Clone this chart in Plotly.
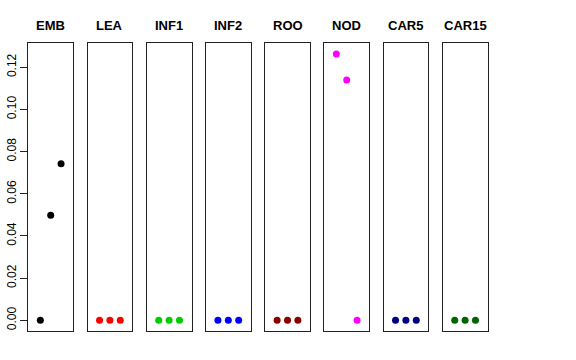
import plotly.graph_objects as go

categories = ["EMB", "LEA", "INF1", "INF2", "ROO", "NOD", "CAR5", "CAR15"]
colors = ["#000000", "#FF0000", "#00CD00", "#0000FF", "#8B0000", "#FF00FF", "#000080", "#006400"]
x_pos = [1, 2, 3]
values = {
    "EMB": [0.0, 0.0498, 0.0743],
    "LEA": [0.0, 0.0, 0.0],
    "INF1": [0.0, 0.0, 0.0],
    "INF2": [0.0, 0.0, 0.0],
    "ROO": [0.0, 0.0, 0.0],
    "NOD": [0.1263, 0.1140, 0.0],
    "CAR5": [0.0, 0.0, 0.0],
    "CAR15": [0.0, 0.0, 0.0],
}
y_ticks = [0.00, 0.02, 0.04, 0.06, 0.08, 0.10, 0.12]

W, H = 576, 360
fig = go.Figure()
ymax = max(max(v) for v in values.values())
ymin = 0.0
ext = (ymax - ymin) * 0.04
yrange = [ymin - ext, ymax + ext]

top_px, bot_px = 43.3, 331.0
ydom = [(H - bot_px) / H, (H - top_px) / H]

annotations = []
for i, cat in enumerate(categories):
    left = 28.3 + 59.2 * i
    right = left + 44.8
    xa = "xaxis" if i == 0 else f"xaxis{i+1}"
    ya = "yaxis" if i == 0 else f"yaxis{i+1}"
    xr = "x" if i == 0 else f"x{i+1}"
    yr = "y" if i == 0 else f"y{i+1}"
    fig.add_trace(go.Scatter(
        x=x_pos, y=values[cat], mode="markers",
        marker=dict(color=colors[i], size=7),
        xaxis=xr, yaxis=yr, showlegend=False, hoverinfo="skip"))
    fig.layout[xa] = dict(domain=[left / W, right / W], range=[-0.16, 4.16],
                          showgrid=False, zeroline=False, showticklabels=False, ticks="",
                          showline=True, mirror=True, linecolor="#222222", linewidth=1,
                          anchor=yr, fixedrange=True, automargin=False)
    yax = dict(domain=ydom, range=yrange, showgrid=False, zeroline=False,
               showline=True, mirror=True, linecolor="#222222", linewidth=1,
               anchor=xr, fixedrange=True, automargin=False)
    if i == 0:
        yax.update(tickvals=y_ticks, ticktext=[f"{t:.2f}" for t in y_ticks],
                   ticks="outside", ticklen=7, tickcolor="#222222", tickangle=-90,
                   tickfont=dict(family="Liberation Sans, Arial, sans-serif", size=12, color="#000000"))
    else:
        yax.update(showticklabels=False, ticks="")
    fig.layout[ya] = yax
    annotations.append(dict(text=f"<b>{cat}</b>", x=(left + right) / 2 / W, y=(H - 26) / H,
                            xref="paper", yref="paper", showarrow=False,
                            xanchor="center", yanchor="middle",
                            font=dict(family="Liberation Sans, Arial, sans-serif", size=13, color="#000000")))

fig.update_layout(width=W, height=H, margin=dict(l=0, r=0, t=0, b=0, autoexpand=False),
                  paper_bgcolor="white", plot_bgcolor="white",
                  annotations=annotations, hovermode=False)
fig.write_html("out.html", config={"displayModeBar": False, "staticPlot": True},
               post_script="document.body.style.margin='0';document.body.style.overflow='hidden';")
